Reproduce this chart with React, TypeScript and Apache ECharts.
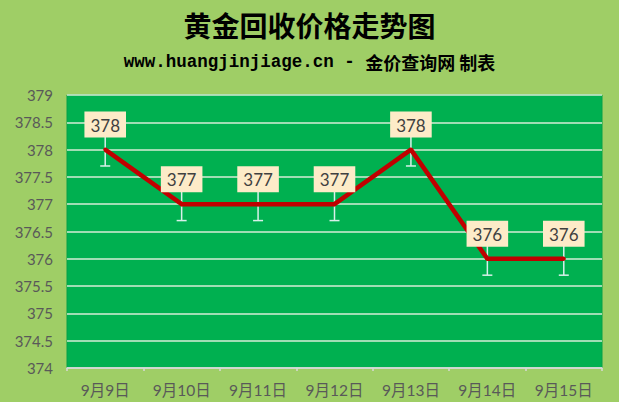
import { useEffect, useRef } from 'react'
import * as echarts from 'echarts'

const dates = ['9月9日', '9月10日', '9月11日', '9月12日', '9月13日', '9月14日', '9月15日']
const prices = [378, 377, 377, 377, 378, 376, 376]
const errorMargins = [0.3, 0.3, 0.3, 0.3, 0.3, 0.3, 0.3]
const yMin = 374
const yMax = 379
const yStep = 0.5

export default function App() {
  const chartRef = useRef<HTMLDivElement>(null)

  useEffect(() => {
    document.body.style.margin = '0'
    if (!chartRef.current) return
    const chart = echarts.init(chartRef.current, undefined, { renderer: 'svg' })

    const option: echarts.EChartsOption = {
      animation: false,
      backgroundColor: '#9fce66',
      title: [
        {
          text: '黄金回收价格走势图',
          left: 'center',
          top: 6,
          textStyle: {
            fontFamily: 'Noto Sans CJK SC',
            fontSize: 28,
            fontWeight: 'bold',
            color: '#000'
          }
        },
        {
          text: '{a|www.huangjinjiage.cn - }{b|金价查询网 制表}',
          left: 'center',
          top: 48,
          textStyle: {
            rich: {
              a: {
                fontFamily: 'Liberation Mono',
                fontWeight: 'bold',
                fontSize: 17.5,
                color: '#000'
              },
              b: {
                fontFamily: 'Noto Sans CJK SC',
                fontWeight: 'bold',
                fontSize: 18,
                color: '#000'
              }
            }
          }
        }
      ],
      grid: {
        left: 67,
        right: 17,
        top: 95,
        bottom: 34,
        show: true,
        backgroundColor: '#00b050',
        borderColor: '#05a048',
        borderWidth: 1
      },
      xAxis: {
        type: 'category',
        data: dates,
        boundaryGap: true,
        axisLine: { lineStyle: { color: '#d9d9d9', width: 1.5 } },
        axisTick: { show: true, interval: 0, length: 3, lineStyle: { color: '#d9d9d9', width: 1.5 } },
        axisLabel: {
          interval: 0,
          color: '#595959',
          fontSize: 15.5,
          fontFamily: 'Lato, Noto Sans CJK SC',
          margin: 14
        }
      },
      yAxis: {
        type: 'value',
        min: yMin,
        max: yMax,
        interval: yStep,
        axisLine: { show: false },
        axisTick: { show: false },
        axisLabel: {
          color: '#595959',
          fontSize: 15,
          fontFamily: 'Lato',
          margin: 14
        },
        splitLine: { lineStyle: { color: '#d6ecd6', width: 1.5 } }
      },
      series: [
        {
          type: 'custom',
          z: 1,
          data: prices.map((v, i) => [i, v, errorMargins[i]]),
          renderItem: (params: any, api: any) => {
            const x = api.value(0)
            const v = api.value(1)
            const e = api.value(2)
            const top = api.coord([x, v + e])
            const bottom = api.coord([x, v - e])
            const style = { stroke: '#d8f0ea', lineWidth: 1.5 }
            return {
              type: 'group',
              children: [
                { type: 'line', shape: { x1: top[0], y1: top[1], x2: bottom[0], y2: bottom[1] }, style },
                { type: 'line', shape: { x1: top[0] - 5, y1: top[1], x2: top[0] + 5, y2: top[1] }, style },
                { type: 'line', shape: { x1: bottom[0] - 5, y1: bottom[1], x2: bottom[0] + 5, y2: bottom[1] }, style }
              ]
            }
          }
        },
        {
          type: 'line',
          z: 3,
          data: prices,
          symbol: 'circle',
          symbolSize: 4,
          itemStyle: { color: '#c00000' },
          lineStyle: { color: '#c00000', width: 4.5 },
          label: {
            show: true,
            position: 'top',
            distance: 10,
            backgroundColor: '#fdebc8',
            padding: [5, 6, 4, 6],
            fontSize: 17,
            fontFamily: 'Lato',
            color: '#404040'
          }
        }
      ]
    }

    chart.setOption(option)
    return () => chart.dispose()
  }, [])

  return (
    <div
      ref={chartRef}
      style={{ width: 619, height: 402, position: 'absolute', left: 0, top: 0 }}
    />
  )
}
